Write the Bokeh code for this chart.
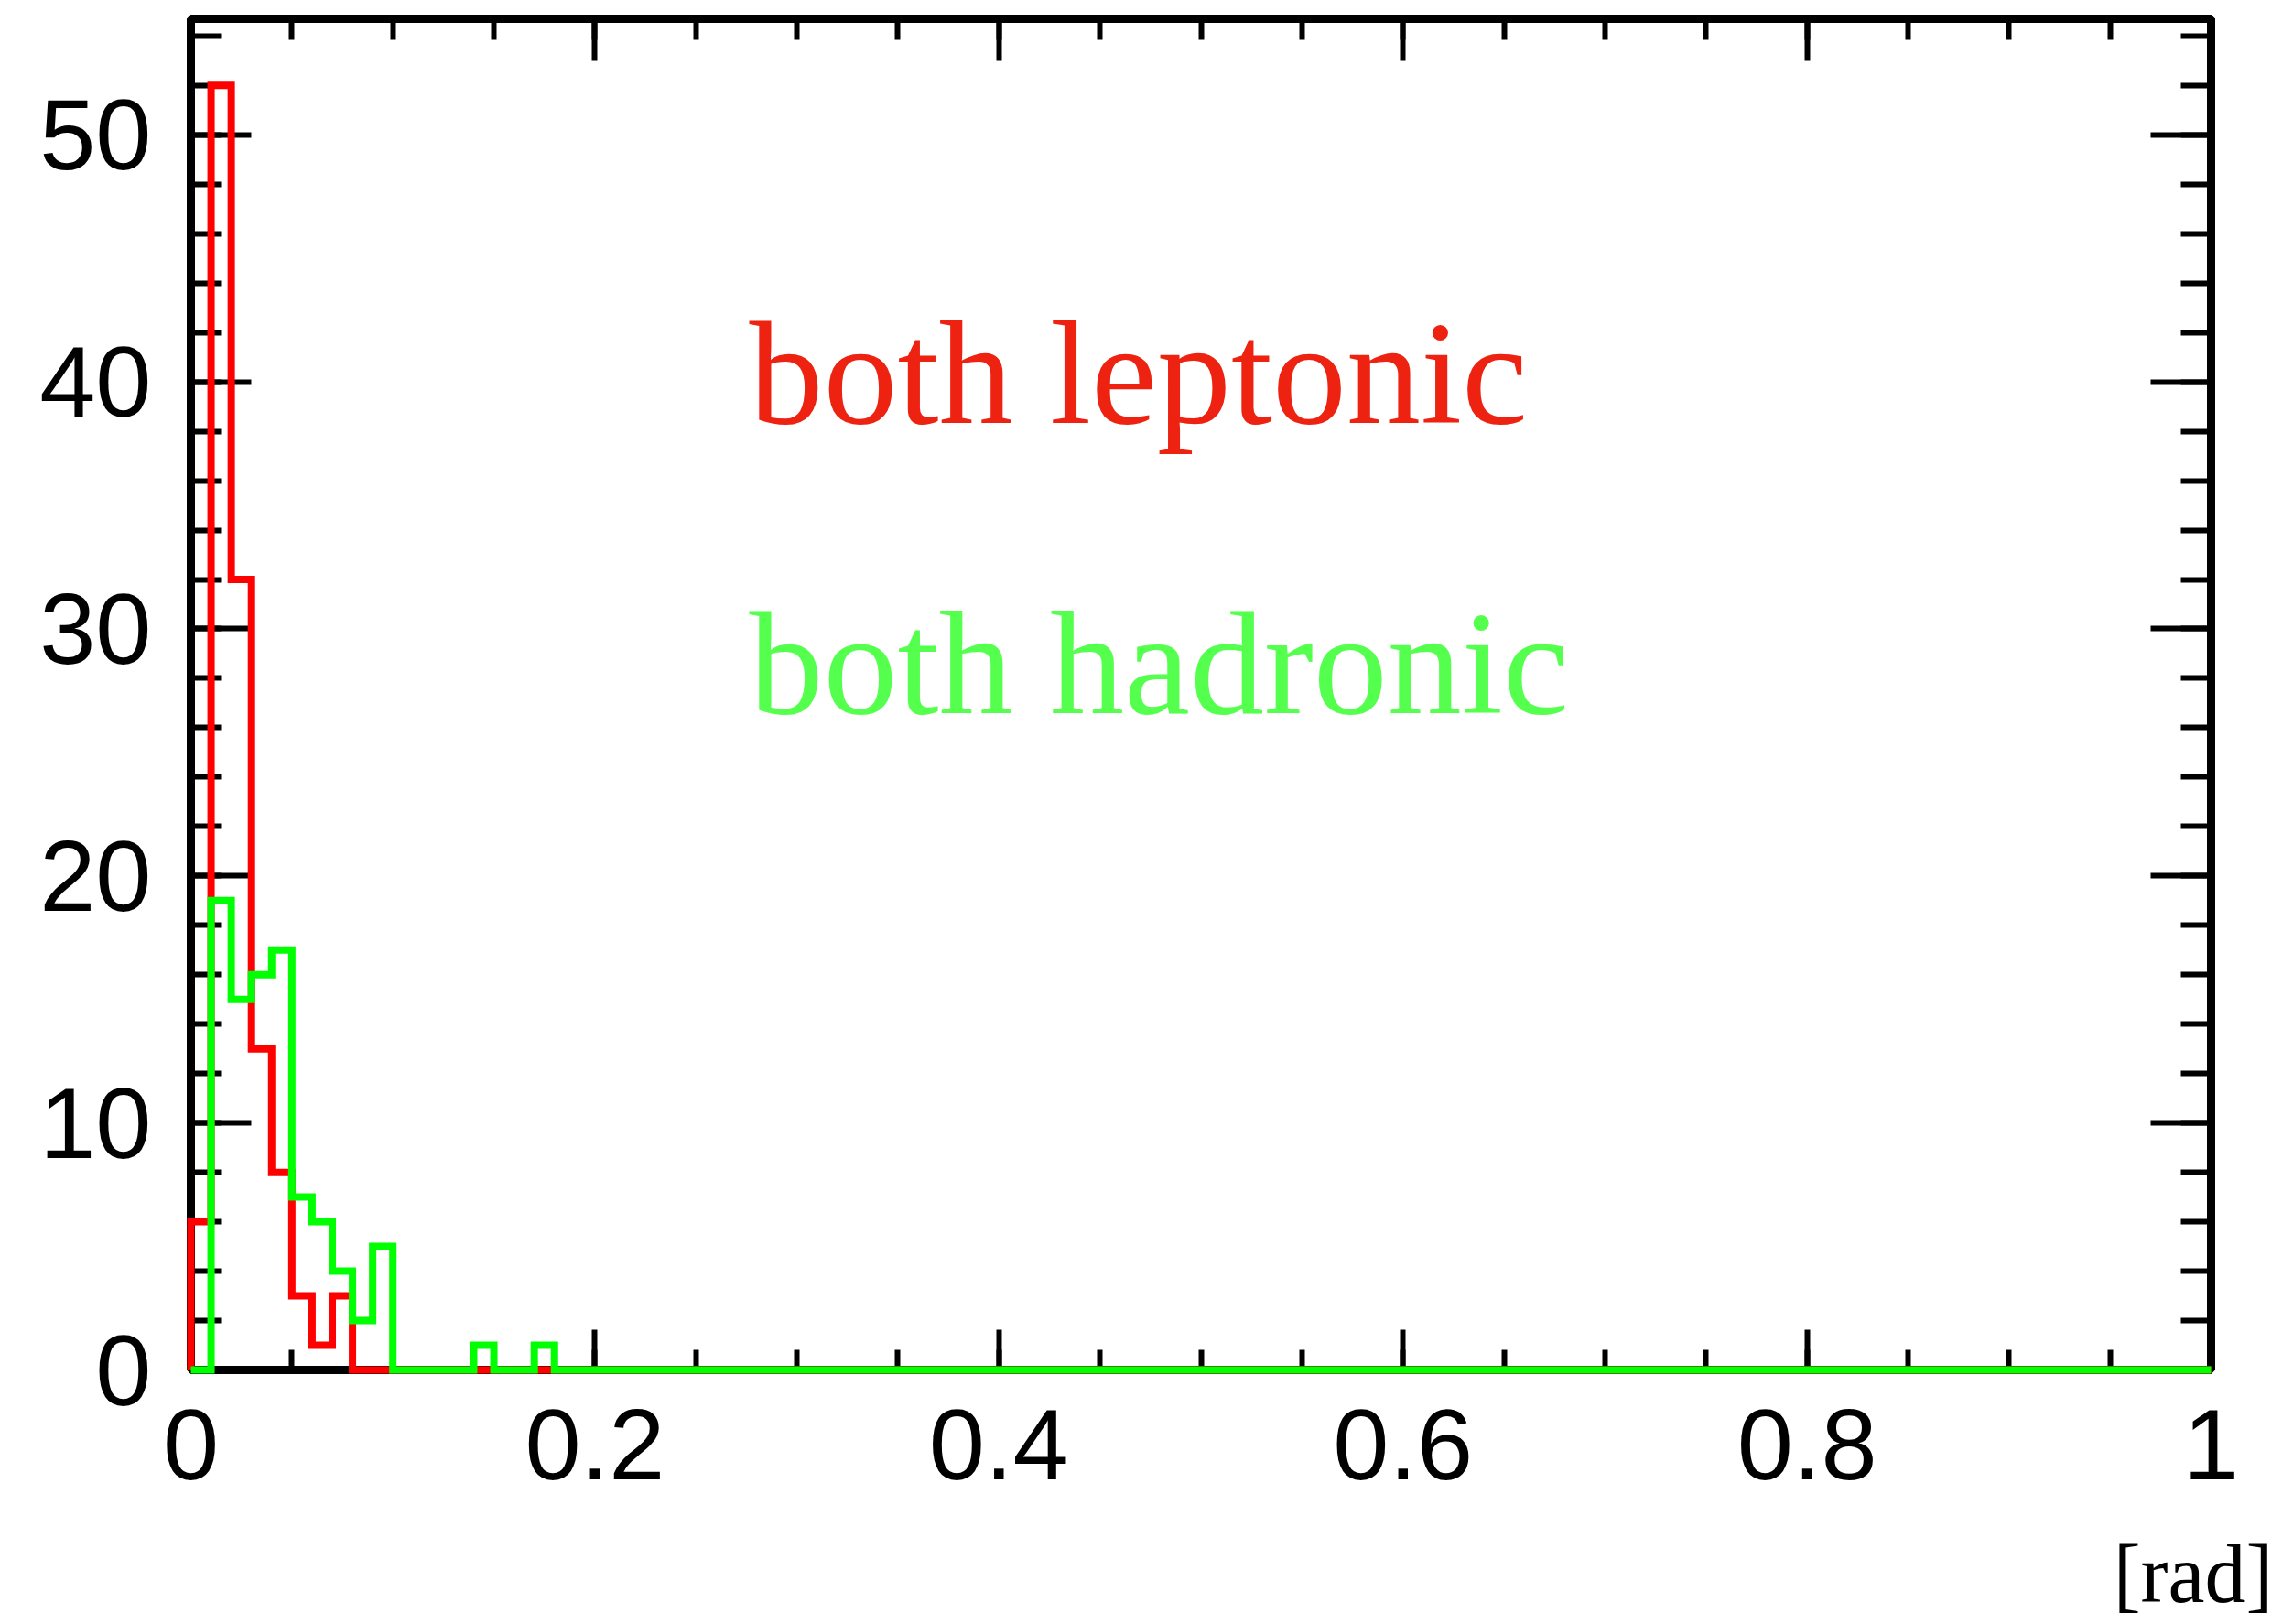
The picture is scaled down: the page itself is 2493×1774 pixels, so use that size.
import numpy as np
from bokeh.plotting import figure
from bokeh.models import Range1d, LinearAxis, FixedTicker, Title
from bokeh.core.properties import value
from bokeh.embed import file_html
from bokeh.resources import INLINE

# ---------------- data ----------------
n_bins = 100
x_min, x_max = 0.0, 1.0

# counts per bin (bin width 0.01 rad)
leptonic_counts = [
    6, 52, 32, 13, 8, 3, 1, 3, 0, 0,
    0, 0, 0, 0, 0, 0, 0, 0, 0, 0,
    0, 0, 0, 0, 0, 0, 0, 0, 0, 0,
    0, 0, 0, 0, 0, 0, 0, 0, 0, 0,
    0, 0, 0, 0, 0, 0, 0, 0, 0, 0,
    0, 0, 0, 0, 0, 0, 0, 0, 0, 0,
    0, 0, 0, 0, 0, 0, 0, 0, 0, 0,
    0, 0, 0, 0, 0, 0, 0, 0, 0, 0,
    0, 0, 0, 0, 0, 0, 0, 0, 0, 0,
    0, 0, 0, 0, 0, 0, 0, 0, 0, 0,
]
hadronic_counts = [
    0, 19, 15, 16, 17, 7, 6, 4, 2, 5,
    0, 0, 0, 0, 1, 0, 0, 1, 0, 0,
    0, 0, 0, 0, 0, 0, 0, 0, 0, 0,
    0, 0, 0, 0, 0, 0, 0, 0, 0, 0,
    0, 0, 0, 0, 0, 0, 0, 0, 0, 0,
    0, 0, 0, 0, 0, 0, 0, 0, 0, 0,
    0, 0, 0, 0, 0, 0, 0, 0, 0, 0,
    0, 0, 0, 0, 0, 0, 0, 0, 0, 0,
    0, 0, 0, 0, 0, 0, 0, 0, 0, 0,
    0, 0, 0, 0, 0, 0, 0, 0, 0, 0,
]

x_ticks = [0, 0.2, 0.4, 0.6, 0.8, 1]
x_tick_labels = ["0", "0.2", "0.4", "0.6", "0.8", "1"]
y_ticks = [0, 10, 20, 30, 40, 50]
y_tick_labels = ["0", "10", "20", "30", "40", "50"]

series_labels = ["both leptonic", "both hadronic"]
x_unit_label = "[rad]"

# ---------------- helpers ----------------
edges = np.linspace(x_min, x_max, n_bins + 1)


def step_path(counts):
    c = np.asarray(counts, dtype=float)
    xs = [edges[0]]
    ys = [0.0]
    for i in range(len(c)):
        xs += [edges[i], edges[i + 1]]
        ys += [c[i], c[i]]
    xs.append(edges[-1])
    ys.append(0.0)
    return xs, ys


# ---------------- figure ----------------
p = figure(
    frame_width=2207, frame_height=1476,
    min_border_left=208, min_border_right=78,
    min_border_top=20, min_border_bottom=278,
    x_range=Range1d(0, 1), y_range=Range1d(0, 54.7),
    x_axis_type=None, y_axis_type=None,
    output_backend="svg", toolbar_location=None,
    background_fill_color="white", border_fill_color="white",
)
p.outline_line_color = "black"
p.outline_line_width = 9
p.outline_line_alpha = 1.0

x_minor = list(np.round(np.arange(0, 1.0001, 0.05), 4))
y_minor = list(np.arange(0, 55, 2))

label_font = "Liberation Sans"
label_size = "110px"


def style_axis(ax, tick_in, minor_in, show_labels, standoff):
    ax.axis_line_width = 9
    ax.axis_line_color = "black"
    ax.major_tick_in = tick_in
    ax.major_tick_out = 0
    ax.minor_tick_in = minor_in
    ax.minor_tick_out = 0
    ax.major_tick_line_width = 6
    ax.minor_tick_line_width = 6
    ax.major_tick_line_color = "black"
    ax.minor_tick_line_color = "black"
    if show_labels:
        ax.major_label_text_font = label_font
        ax.major_label_text_font_size = label_size
        ax.major_label_text_color = "black"
        ax.major_label_standoff = standoff
    else:
        ax.major_label_text_font_size = "0px"
        ax.major_label_text_alpha = 0
        ax.major_label_standoff = 0


x_ticker = FixedTicker(ticks=x_ticks, minor_ticks=x_minor)
y_ticker = FixedTicker(ticks=y_ticks, minor_ticks=y_minor)

bottom = LinearAxis(ticker=x_ticker,
                    major_label_overrides={t: l for t, l in zip(x_ticks, x_tick_labels)})
style_axis(bottom, 44, 22, True, 43)
top = LinearAxis(ticker=x_ticker)
style_axis(top, 46, 23, False, 0)
left = LinearAxis(ticker=y_ticker,
                  major_label_overrides={t: l for t, l in zip(y_ticks, y_tick_labels)})
style_axis(left, 66, 33, True, 43)
right = LinearAxis(ticker=y_ticker)
style_axis(right, 66, 33, False, 0)

p.add_layout(bottom, "below")
p.add_layout(top, "above")
p.add_layout(left, "left")
p.add_layout(right, "right")

# unit label, bottom right (below the tick labels)
p.add_layout(Title(text=x_unit_label, align="right", offset=-68,
                   text_font="Liberation Serif", text_font_size="90px",
                   text_font_style="normal", text_color="black",
                   standoff=98), "below")

# histograms
lx, ly = step_path(leptonic_counts)
hx, hy = step_path(hadronic_counts)
r1 = p.line(lx, ly, line_color="#ff0000", line_width=8, line_join="miter")
r2 = p.line(hx, hy, line_color="#00ff00", line_width=8, line_join="miter")
r1.level = "overlay"
r2.level = "overlay"

# series text
p.text(x=[0.2764], y=[40.34], text=[series_labels[0]],
       text_font=value("Liberation Serif"), text_font_size="162px",
       text_color="#ee2211", text_align="left", text_baseline="alphabetic")
p.text(x=[0.2764], y=[28.6], text=[series_labels[1]],
       text_font=value("Liberation Serif"), text_font_size="162px",
       text_color="#55ff4d", text_align="left", text_baseline="alphabetic")

open("out.html", "w").write(file_html(p, INLINE))
